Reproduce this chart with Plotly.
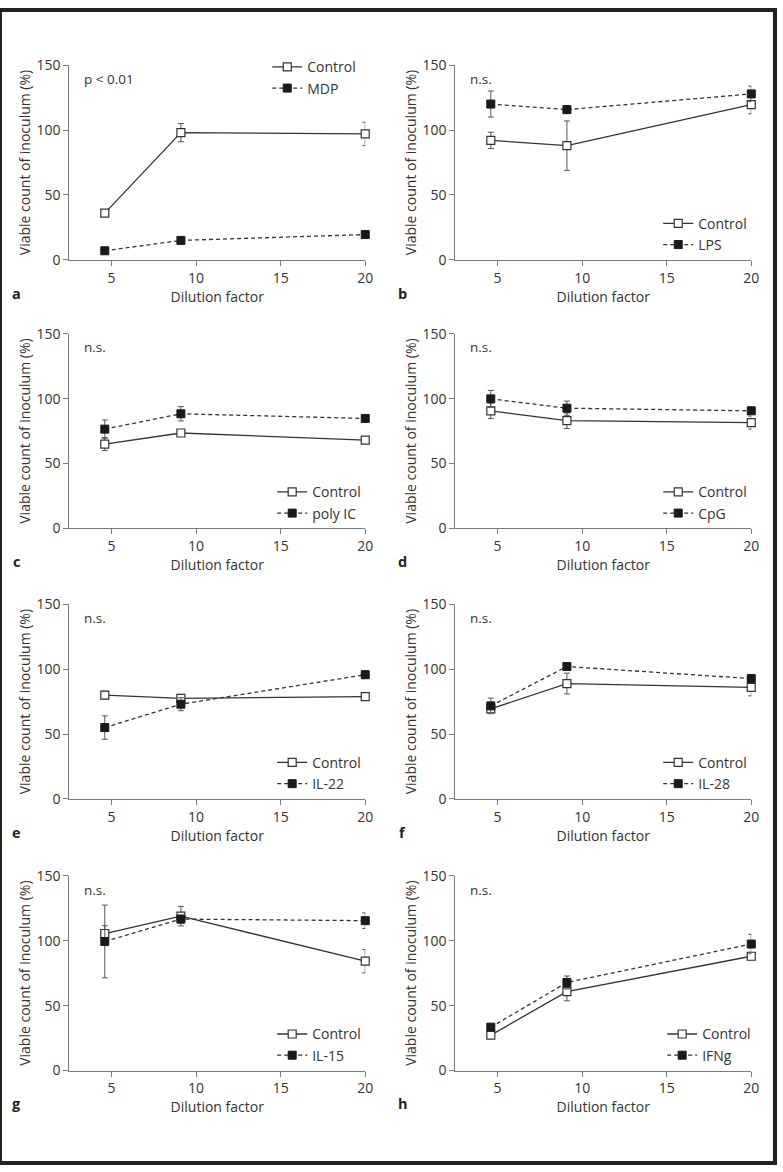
import plotly.graph_objects as go

W, H = 783, 1172

dilution = [4.6, 9.1, 20]

panel_letters = ["a", "b", "c", "d", "e", "f", "g", "h"]
treatments = ["MDP", "LPS", "poly IC", "CpG", "IL-22", "IL-28", "IL-15", "IFNg"]
stat_labels = ["p < 0.01", "n.s.", "n.s.", "n.s.", "n.s.", "n.s.", "n.s.", "n.s."]

control_vals = [
    [36, 98, 97],
    [92, 88, 119.5],
    [65, 73.5, 68],
    [90.6, 83, 81.5],
    [80, 77.5, 78.8],
    [69.4, 88.9, 85.9],
    [105.5, 118.9, 84.2],
    [27.3, 60.7, 88],
]
control_err = [
    [2, 7, 9],
    [6.3, 19, 7],
    [5, 1.5, 1.5],
    [6, 6, 5],
    [3, 3, 1],
    [2, 8, 6.5],
    [6, 7.5, 9],
    [2, 7, 3],
]
treat_vals = [
    [7, 15, 19.5],
    [120, 115.7, 127.8],
    [76.5, 88.3, 84.7],
    [99.8, 92.6, 90.6],
    [55, 73, 95.7],
    [71.7, 102, 92.7],
    [99.4, 116.6, 115.4],
    [33.4, 67.8, 97.4],
]
treat_err = [
    [2, 2, 1.5],
    [10, 3, 6],
    [7, 5.5, 1.5],
    [6.5, 5.5, 3],
    [9, 5, 3],
    [6, 2, 3],
    [28, 3, 6],
    [2, 5, 7.5],
]

x_ticks = [5, 10, 15, 20]
y_ticks = [0, 50, 100, 150]

FONT = "Open Sans"
TXT = "#333333"
AX = "#7a7a7a"
LINE = "#333333"
FS = 14

# pixel geometry of the plot areas
col_px = [(70, 369), (460, 759)]
row_px = [(56, 254), (329, 527), (604, 802), (880, 1078)]

fig = go.Figure()
layout = dict(
    width=W, height=H,
    margin=dict(l=0, r=0, t=0, b=0),
    paper_bgcolor="white", plot_bgcolor="white",
    font=dict(family=FONT, size=FS, color=TXT),
    showlegend=True,
)
annotations = []

for i in range(8):
    r, c = i // 2, i % 2
    x0, x1 = col_px[c]
    ytop, ybot = row_px[r]
    xa = "x" if i == 0 else f"x{i+1}"
    ya = "y" if i == 0 else f"y{i+1}"
    xkey = "xaxis" if i == 0 else f"xaxis{i+1}"
    ykey = "yaxis" if i == 0 else f"yaxis{i+1}"
    lg = "legend" if i == 0 else f"legend{i+1}"

    fig.add_trace(go.Scatter(
        x=dilution, y=control_vals[i], xaxis=xa, yaxis=ya,
        mode="lines+markers", name="Control", legend=lg,
        line=dict(color=LINE, width=1.3),
        marker=dict(symbol="square", size=8, color="white", line=dict(color=LINE, width=1.2)),
        error_y=dict(type="data", array=control_err[i], color="#555555", thickness=1, width=3),
        cliponaxis=False,
    ))
    fig.add_trace(go.Scatter(
        x=dilution, y=treat_vals[i], xaxis=xa, yaxis=ya,
        mode="lines+markers", name=treatments[i], legend=lg,
        line=dict(color=LINE, width=1.3, dash="4px,3px"),
        marker=dict(symbol="square", size=8, color="#1a1a1a", line=dict(color="#1a1a1a", width=1)),
        error_y=dict(type="data", array=treat_err[i], color="#555555", thickness=1, width=3),
        cliponaxis=False,
    ))

    layout[xkey] = dict(
        domain=[x0 / W, x1 / W], anchor=ya, range=[2.5, 20],
        tickvals=x_ticks, ticks="outside", ticklen=5, tickcolor=AX, tickwidth=1,
        showline=True, linecolor=AX, linewidth=1, showgrid=False, zeroline=False,
        tickfont=dict(size=FS, color=TXT),
        title=dict(text="Dilution factor", font=dict(size=FS, color=TXT), standoff=3),
    )
    layout[ykey] = dict(
        domain=[1 - ybot / H, 1 - ytop / H], anchor=xa, range=[0, 150],
        tickvals=y_ticks, ticks="outside", ticklen=5, tickcolor=AX, tickwidth=1,
        showline=True, linecolor=AX, linewidth=1, showgrid=False, zeroline=False,
        tickfont=dict(size=FS, color=TXT),
        title=dict(text="Viable count of inoculum (%)", font=dict(size=FS, color=TXT), standoff=2),
    )

    if i == 0:
        leg_x, leg_y = 270, 42
    else:
        leg_x = 275 if c == 0 else 665
        if i == 7:
            leg_x = 669
        leg_y = ybot - 53
    layout[lg] = dict(
        x=leg_x / W, y=1 - leg_y / H, xanchor="left", yanchor="top",
        bgcolor="rgba(0,0,0,0)", borderwidth=0,
        font=dict(family=FONT, size=FS, color=TXT),
        itemwidth=30, tracegroupgap=0,
    )

    annotations.append(dict(
        text=stat_labels[i], xref=f"{xa} domain", yref=f"{ya} domain",
        x=0.043, y=1 - 14 / 198, xanchor="left", yanchor="middle",
        showarrow=False, font=dict(size=13.5, color=TXT),
    ))
    annotations.append(dict(
        text=f"<b>{panel_letters[i]}</b>", xref="paper", yref="paper",
        x=(17 if c == 0 else 407) / W, y=1 - (ybot + 34) / H,
        xanchor="center", yanchor="middle", showarrow=False,
        font=dict(size=14.5, color="#222222"),
    ))

layout["annotations"] = annotations
layout["shapes"] = [dict(
    type="rect", xref="paper", yref="paper", x0=0, y0=0, x1=1, y1=1,
    line=dict(color="#222222", width=4), fillcolor="rgba(0,0,0,0)", layer="above",
)]
fig.update_layout(**layout)

post = (
    "document.documentElement.style.margin='0';"
    "document.body.style.margin='0';document.body.style.padding='0';"
    "document.body.style.overflow='hidden';"
    "var d=document.getElementById('{plot_id}');"
    "d.style.position='absolute';d.style.left='0px';d.style.top='0px';"
)
fig.write_html("out.html", post_script=post, config={"displayModeBar": False})
